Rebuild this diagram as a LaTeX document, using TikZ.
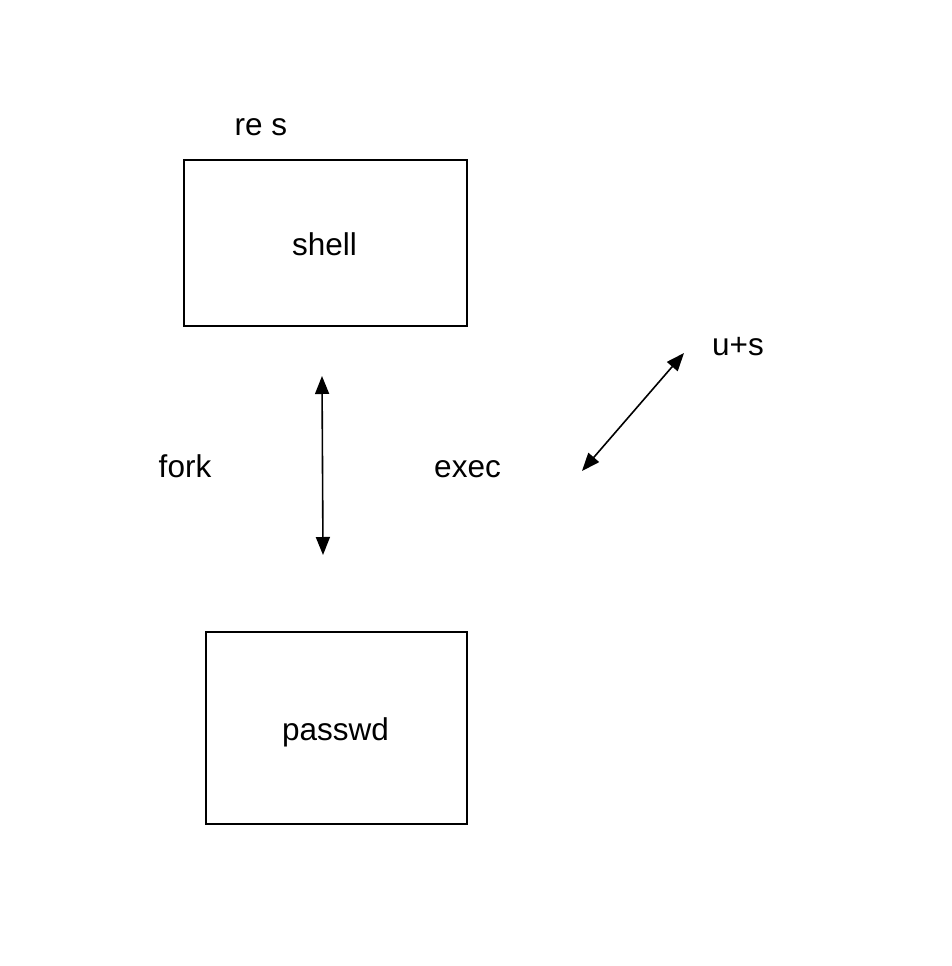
\documentclass[tikz,border=0pt]{standalone}
\usepackage{fontspec}
\setmainfont{Liberation Sans}
\usetikzlibrary{arrows.meta}
\begin{document}
\begin{tikzpicture}[x=1pt,y=-1pt,
  box/.style={draw,line width=1.3pt,inner sep=0pt},
  lbl/.style={font=\fontsize{31.5}{36}\selectfont,inner sep=0pt,anchor=base},
  conn/.style={line width=1.6pt,{Triangle[length=18pt,width=14pt]}-{Triangle[length=18pt,width=14pt]}}]
\useasboundingbox (0,0) rectangle (952,966);
\node[box,minimum width=283pt,minimum height=166pt] (shell) at (325.5,243) {};
\node[lbl] (shelltxt) at (324.5,255) {shell};
\node[box,minimum width=261pt,minimum height=192pt] (passwd) at (336.5,728) {};
\node[lbl] (passwdtxt) at (335.5,740) {passwd};
\node[lbl] (res) at (261,135) {re s};
\node[lbl] (fork) at (185,477) {fork};
\node[lbl] (exec) at (467.5,477) {exec};
\node[lbl] (us) at (738,355) {u+s};
\coordinate (v1) at (322,376);
\coordinate (v2) at (323,555);
\coordinate (d1) at (684,353);
\coordinate (d2) at (582,471);
\draw[conn] (v1) -- (v2);
\draw[conn] (d1) -- (d2);
\end{tikzpicture}
\end{document}
